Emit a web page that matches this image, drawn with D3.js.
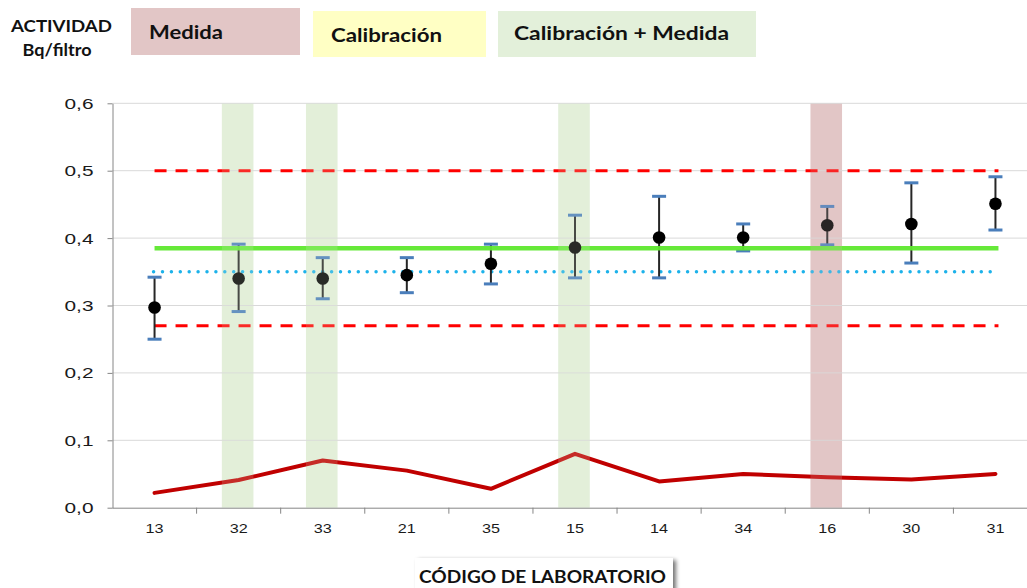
<!DOCTYPE html>
<html>
<head>
<meta charset="utf-8">
<script src="https://cdn.jsdelivr.net/npm/d3@7"></script>
<style>
  html, body { margin: 0; padding: 0; background: #fff; }
  svg { display: block; font-family: Lato, "Open Sans", sans-serif; }
</style>
</head>
<body>
<svg id="chart" width="1027" height="588"></svg>
<script>
// ---- data ----
const labs = ["13", "32", "33", "21", "35", "15", "14", "34", "16", "30", "31"];
const values = [0.297, 0.340, 0.340, 0.345, 0.362, 0.386, 0.401, 0.401, 0.419, 0.421, 0.451];
const errHigh = [0.342, 0.391, 0.371, 0.371, 0.391, 0.434, 0.462, 0.421, 0.447, 0.482, 0.491];
const errLow = [0.250, 0.291, 0.310, 0.319, 0.332, 0.341, 0.341, 0.381, 0.390, 0.363, 0.412];
const uncert = [0.022, 0.041, 0.070, 0.055, 0.028, 0.080, 0.039, 0.050, 0.045, 0.042, 0.050];
const refValue = 0.385;
const meanValue = 0.35;
const limits = [0.27, 0.5];
const calibMedidaLabs = ["32", "33", "15"];
const medidaLabs = ["16"];
const yTicks = [0, 0.1, 0.2, 0.3, 0.4, 0.5, 0.6];
const legendItems = ["Medida", "Calibración", "Calibración + Medida"];
const yTitle = ["ACTIVIDAD", "Bq/filtro"];
const xTitle = "CÓDIGO DE LABORATORIO";

// ---- colours ----
const pink = "#e2c6c6", yellow = "#ffffc4", green = "#e3f0da";

const svg = d3.select("#chart");
const x = d3.scaleBand().domain(labs).range([112.5, 1037.5]);
const y = d3.scaleLinear().domain([0, 0.6]).range([507.7, 103.3]);
const cx = d => x(d) + x.bandwidth() / 2;
const fmt = d => d3.format(".1f")(d).replace(".", ",");

// defs
const defs = svg.append("defs");
const f = defs.append("filter").attr("id", "shadow").attr("x", "-10%").attr("y", "-50%").attr("width", "130%").attr("height", "200%");
f.append("feGaussianBlur").attr("in", "SourceAlpha").attr("stdDeviation", 2);
f.append("feOffset").attr("dx", 3).attr("dy", 2).attr("result", "b");
f.append("feComponentTransfer").append("feFuncA").attr("type", "linear").attr("slope", 0.55);
const fm = f.append("feMerge");
fm.append("feMergeNode");
fm.append("feMergeNode").attr("in", "SourceGraphic");

// shaded bands
const bw = x.bandwidth() * 0.375;
const shaded = labs.filter(l => calibMedidaLabs.includes(l) || medidaLabs.includes(l));
svg.append("g").selectAll("rect")
  .data(shaded)
  .join("rect")
  .attr("x", d => cx(d) - bw / 2 - 1)
  .attr("width", bw)
  .attr("y", y(0.6))
  .attr("height", y(0) - y(0.6))
  .attr("fill", d => medidaLabs.includes(d) ? pink : green);

// gridlines
svg.append("g").selectAll("line")
  .data(yTicks.filter(t => t > 0))
  .join("line")
  .attr("x1", x.range()[0]).attr("x2", 1027)
  .attr("y1", d => y(d)).attr("y2", d => y(d))
  .attr("stroke", "#d9d9d9").attr("stroke-width", 1);

// y axis
const ya = svg.append("g").attr("transform", `translate(${x.range()[0]},0)`)
  .call(d3.axisLeft(y).tickValues(yTicks).tickFormat(fmt).tickSize(5).tickSizeOuter(0).tickPadding(14));
ya.select(".domain").attr("stroke", "#868686");
ya.selectAll(".tick line").attr("stroke", "#868686");
ya.selectAll(".tick text").attr("font-size", 15.5).attr("fill", "#1a1a1a")
  .attr("textLength", 29).attr("lengthAdjust", "spacingAndGlyphs");

// x axis
const xa = svg.append("g").attr("transform", `translate(0,${y(0)})`)
  .call(d3.axisBottom(x).tickSize(0).tickPadding(16));
xa.select(".domain").attr("stroke", "#868686").attr("d", `M${x.range()[0]},0.5H1027`);
xa.selectAll(".tick text").attr("font-size", 13.5).attr("fill", "#1a1a1a")
  .attr("textLength", 18).attr("lengthAdjust", "spacingAndGlyphs");
svg.append("g").selectAll("line")
  .data(labs.slice(1))
  .join("line")
  .attr("x1", d => x(d)).attr("x2", d => x(d))
  .attr("y1", y(0)).attr("y2", y(0) + 6)
  .attr("stroke", "#868686");

// limits (red dashed)
const xStart = cx(labs[0]), xEnd = cx(labs[labs.length - 1]) + 3;
svg.append("g").selectAll("line")
  .data(limits)
  .join("line")
  .attr("x1", xStart).attr("x2", xEnd)
  .attr("y1", d => y(d)).attr("y2", d => y(d))
  .attr("stroke", "#ff0000").attr("stroke-width", 3)
  .attr("stroke-dasharray", "12,9");

// mean (blue dotted)
svg.append("line")
  .attr("x1", xStart - 1).attr("x2", xEnd - 8)
  .attr("y1", y(meanValue)).attr("y2", y(meanValue))
  .attr("stroke", "#1db2ea").attr("stroke-width", 3.4)
  .attr("stroke-linecap", "round")
  .attr("stroke-dasharray", "0.1,8.8");

// uncertainty line (dark red)
svg.append("path")
  .datum(uncert)
  .attr("d", d3.line().x((d, i) => cx(labs[i])).y(d => y(d)))
  .attr("fill", "none").attr("stroke", "#c00000").attr("stroke-width", 4)
  .attr("stroke-linejoin", "round").attr("stroke-linecap", "round");

// error bars
const eb = svg.append("g").selectAll("g").data(labs).join("g");
eb.append("line")
  .attr("x1", d => cx(d)).attr("x2", d => cx(d))
  .attr("y1", (d, i) => y(errHigh[i])).attr("y2", (d, i) => y(errLow[i]))
  .attr("stroke", "#262626").attr("stroke-width", 2);
[errHigh, errLow].forEach(arr => {
  eb.append("line")
    .attr("x1", d => cx(d) - 7).attr("x2", d => cx(d) + 7)
    .attr("y1", (d, i) => y(arr[i])).attr("y2", (d, i) => y(arr[i]))
    .attr("stroke", "#4a7ebb").attr("stroke-width", 3);
});

// reference value (green)
svg.append("line")
  .attr("x1", xStart).attr("x2", xEnd)
  .attr("y1", y(refValue)).attr("y2", y(refValue))
  .attr("stroke", "#5ee82e").attr("stroke-width", 4.5).attr("stroke-opacity", 0.95);

// markers
svg.append("g").selectAll("circle").data(labs).join("circle")
  .attr("cx", d => cx(d)).attr("cy", (d, i) => y(values[i]))
  .attr("r", 6.3).attr("fill", "#000");

// light tint of the bands over marks (as in reference)
svg.append("g").selectAll("rect")
  .data(shaded)
  .join("rect")
  .attr("x", d => cx(d) - bw / 2 - 1)
  .attr("width", bw)
  .attr("y", y(0.6))
  .attr("height", y(0) - y(0.6))
  .attr("fill", d => medidaLabs.includes(d) ? pink : green)
  .attr("fill-opacity", 0.18);

// y title
const yt = svg.append("g").attr("font-weight", "bold").attr("font-size", 17).attr("fill", "#111");
yt.append("text").attr("x", 61.5).attr("y", 32).attr("text-anchor", "middle")
  .attr("textLength", 101).attr("lengthAdjust", "spacingAndGlyphs").text(yTitle[0]);
yt.append("text").attr("x", 57).attr("y", 56).attr("text-anchor", "middle")
  .attr("textLength", 69).attr("lengthAdjust", "spacingAndGlyphs").text(yTitle[1]);

// legend
const legendBoxes = [
  { x: 131, y: 8, w: 169, h: 47, fill: pink, tx: 149, ty: 39, tl: 74 },
  { x: 313, y: 11, w: 173, h: 46, fill: yellow, tx: 331, ty: 42, tl: 111 },
  { x: 498, y: 11, w: 258, h: 46, fill: green, tx: 514, ty: 40, tl: 215 }
];
const lg = svg.append("g");
legendItems.forEach((t, i) => {
  const b = legendBoxes[i];
  lg.append("rect").attr("x", b.x).attr("y", b.y).attr("width", b.w).attr("height", b.h).attr("fill", b.fill);
  lg.append("text").attr("x", b.tx).attr("y", b.ty)
    .attr("font-size", 19.5).attr("font-weight", "bold").attr("fill", "#111")
    .attr("textLength", b.tl).attr("lengthAdjust", "spacingAndGlyphs").text(t);
});

// x title with shadowed box
svg.append("rect").attr("x", 415).attr("y", 558).attr("width", 258).attr("height", 40)
  .attr("fill", "#fff").attr("filter", "url(#shadow)");
svg.append("text").attr("x", 542.5).attr("y", 583).attr("text-anchor", "middle")
  .attr("font-size", 16.5).attr("font-weight", "bold").attr("fill", "#111")
  .attr("textLength", 247).attr("lengthAdjust", "spacingAndGlyphs").text(xTitle);
</script>
</body>
</html>
